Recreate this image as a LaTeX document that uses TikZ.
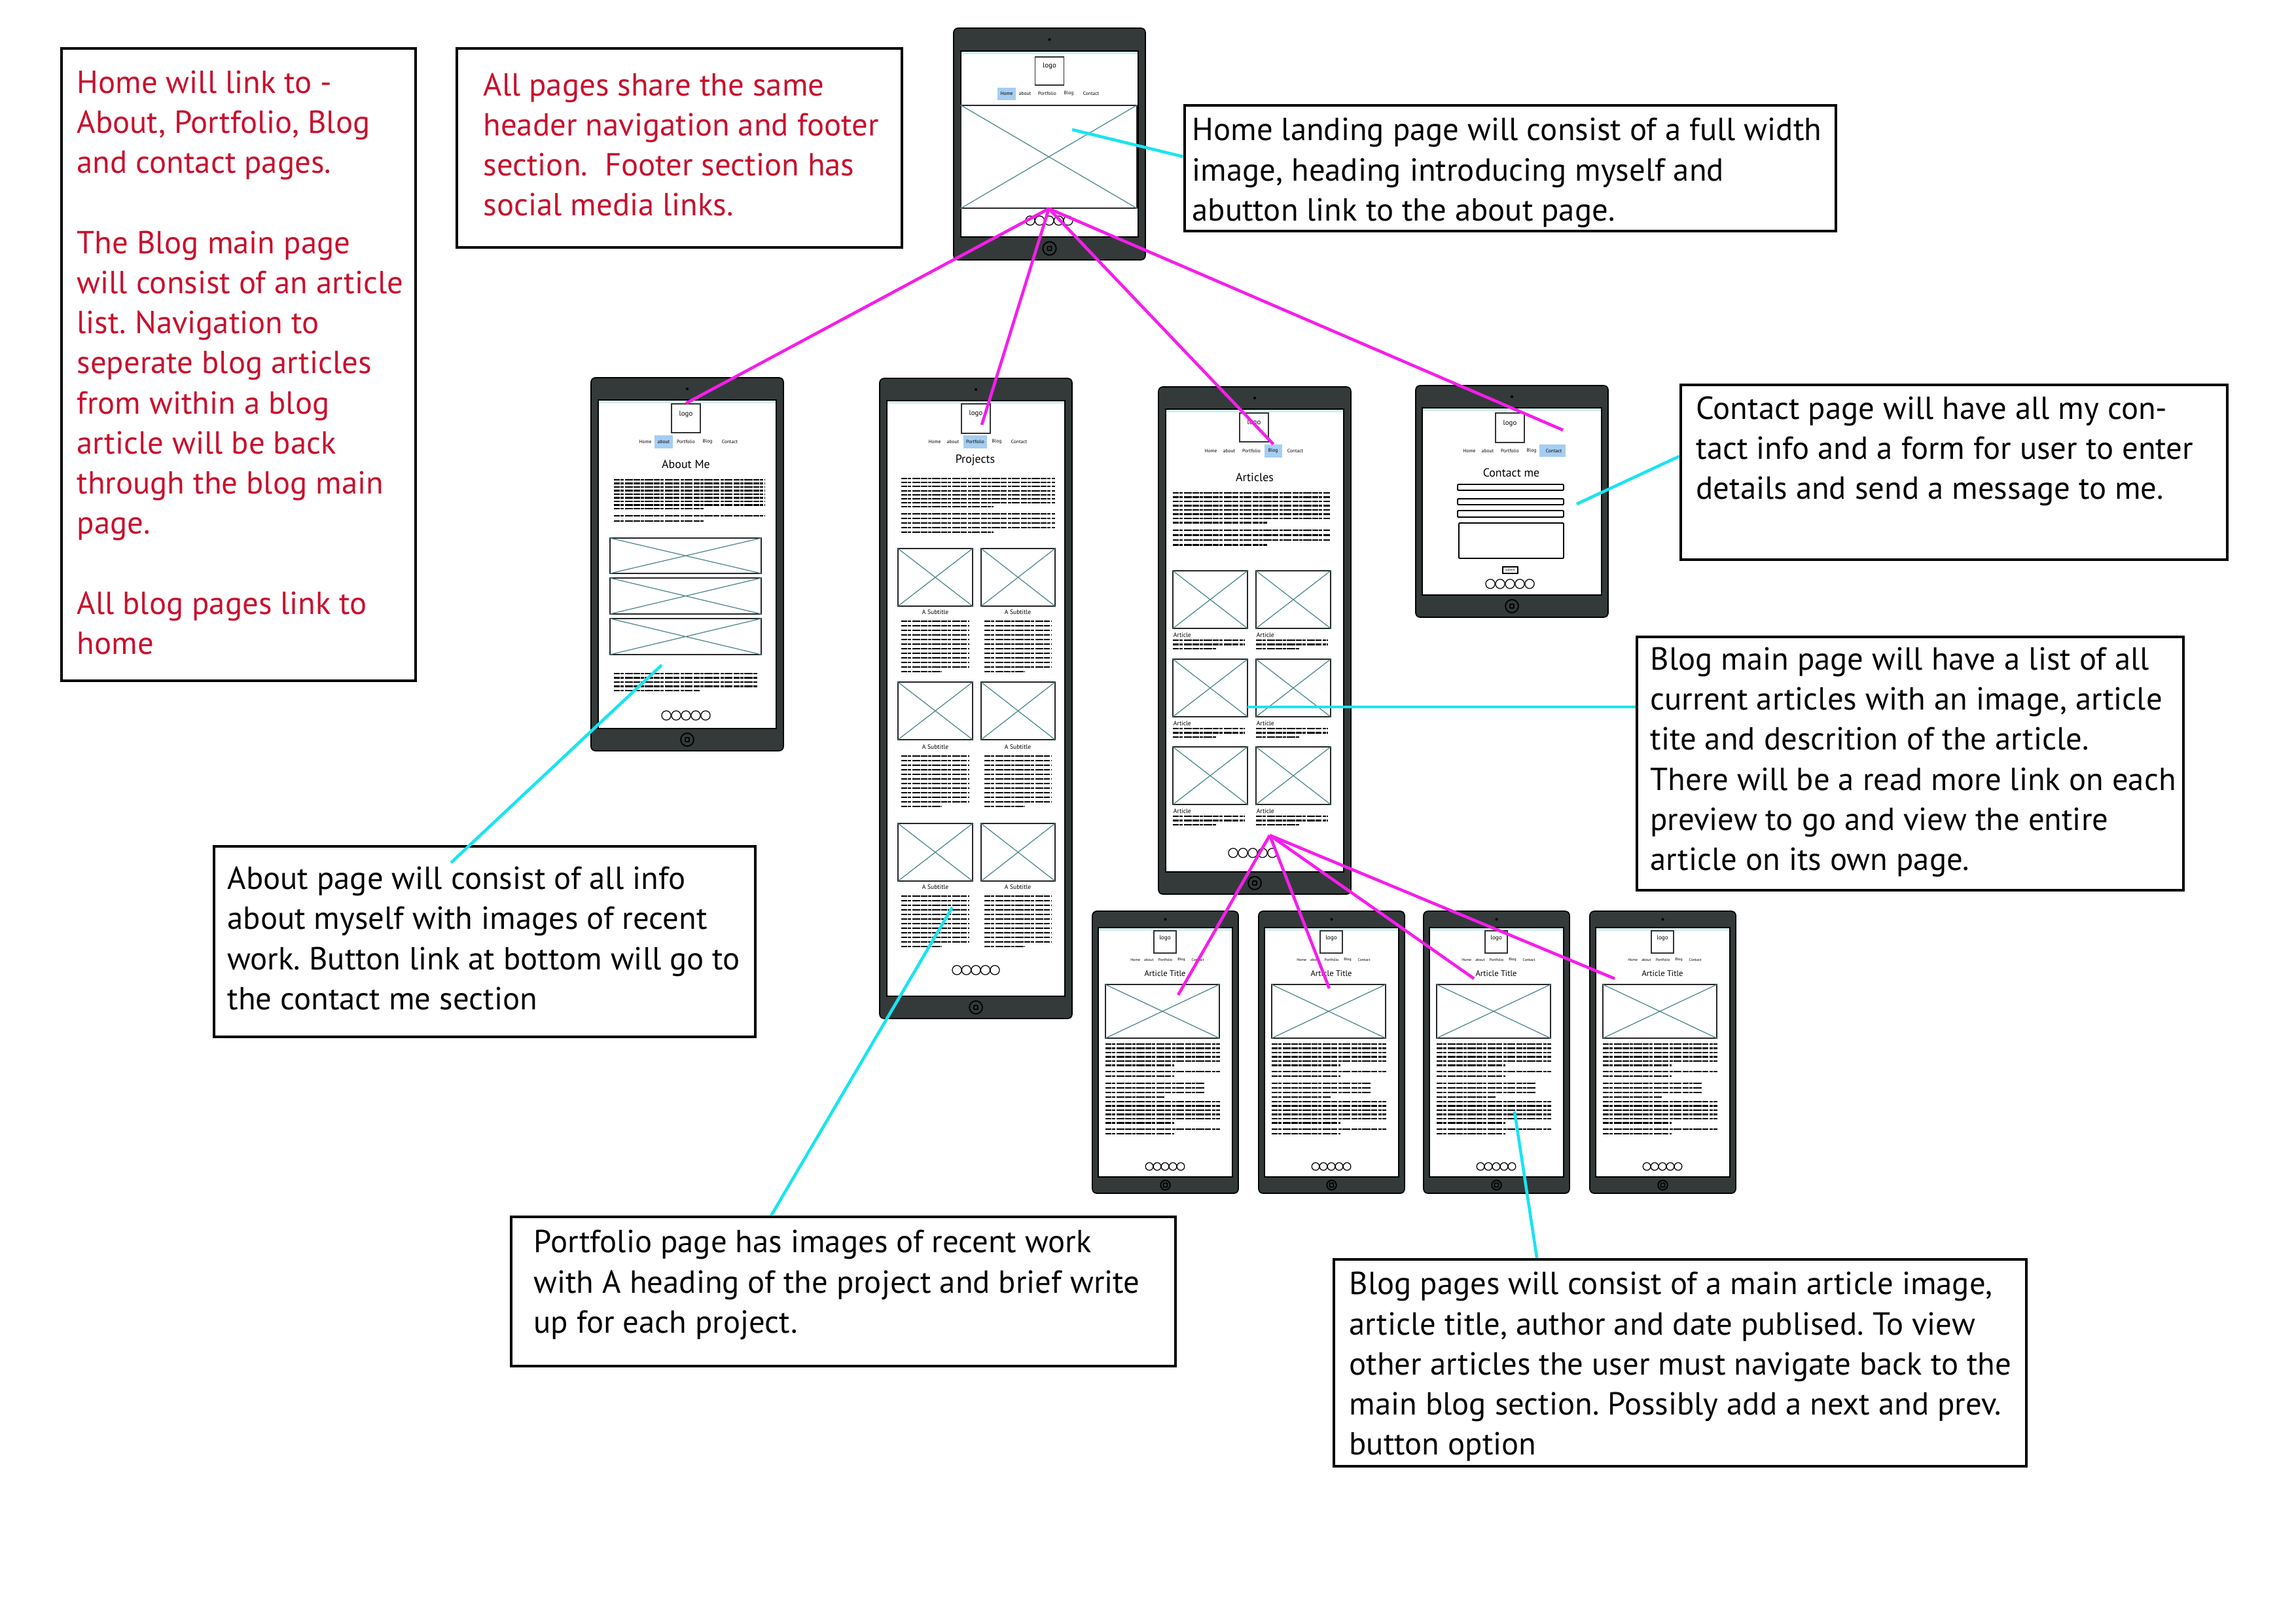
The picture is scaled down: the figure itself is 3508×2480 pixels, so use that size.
\documentclass[tikz,border=0pt]{standalone}
\usepackage{fontspec}
\setmainfont{PT Sans}
\usetikzlibrary{calc}
\frenchspacing

\definecolor{noteRed}{RGB}{200,16,46}
\definecolor{linkMagenta}{RGB}{245,30,235}
\definecolor{linkCyan}{RGB}{25,228,240}
\definecolor{tabletGray}{RGB}{52,58,58}
\definecolor{crossTeal}{RGB}{78,135,140}
\definecolor{navBlue}{RGB}{166,205,242}
\definecolor{statusCyan}{RGB}{214,236,236}

\newcommand{\notefont}{\fontsize{11.7}{14.7}\selectfont}

% tablet body: x1, y1, x2, y2, side gap, top gap
\newcommand{\tablet}[6]{%
  \pgfmathsetmacro{\tcx}{(#1+#3)/2}
  \pgfmathsetlengthmacro{\tbr}{#6*0.07pt}
  \draw[tabframe] (#1,#2) rectangle (#3,#4);
  \draw[screenarea] (#1+#5,#2+#6) rectangle (#3-#5,#4-#6);
  \fill[statusCyan] (#1+#5+1,#2+#6+1) rectangle (#3-#5-1,#2+#6+5);
  \fill (\tcx,#2+#6/2) circle (0.5pt);
  \draw[homebtn] (\tcx,#4-#6/2) circle (\tbr);
  \draw[homebtn,rounded corners=0.2pt] (\tcx-3,#4-#6/2-3) rectangle (\tcx+3,#4-#6/2+3);
}
% nav row: prefix, centre x, y, spread
\newcommand{\navrow}[4]{%
  \foreach \dx/\lbl in {-64/Home,-36/about,-2/Portfolio,31/Blog,65/Contact}
    \node[navitem] (#1-\lbl) at (#2+#4*\dx,#3) {\lbl};
}
% image placeholder: x1, y1, x2, y2
\newcommand{\placeholder}[4]{%
  \draw[imgbox] (#1,#2) rectangle (#3,#4);
  \draw[imgcross] (#1,#2) -- (#3,#4) (#1,#4) -- (#3,#2);
}
% dummy text: x1, x2, first y, lines, gap
\newcommand{\greek}[5]{%
  \foreach \i in {1,...,#4}{
    \pgfmathsetmacro{\gx}{\i==#4 ? (#1)+0.6*((#2)-(#1)) : #2}
    \draw[greekline] (#1,#3+\i*#5-#5) -- (\gx,#3+\i*#5-#5);
  }
}
% footer icons: centre x, y, gap, radius
\newcommand{\footdots}[4]{%
  \foreach \k in {-2,...,2} \draw[dotring] (#1+\k*#3,#2) circle (#4);
}

\begin{document}
\begin{tikzpicture}[x=0.24pt, y=-0.24pt,
    notebox/.style={draw=black, line width=1.1pt, inner sep=0pt},
    notetext/.style={align=left, font=\notefont, inner sep=0pt, anchor=west},
    tabframe/.style={fill=tabletGray, draw=black, line width=0.4pt, rounded corners=1.6pt},
    screenarea/.style={fill=white, draw=black, line width=0.6pt},
    homebtn/.style={draw=black, line width=0.45pt},
    logobox/.style={draw=black!80, line width=0.35pt, inner sep=0pt, minimum width=10.6pt, minimum height=10.6pt},
    logotext/.style={font=\fontsize{2.6}{3}\selectfont, inner sep=0pt},
    navitem/.style={font=\fontsize{1.8}{2}\selectfont, inner sep=0pt},
    navhl/.style={fill=navBlue, inner sep=0pt, minimum height=4.6pt},
    pagetitle/.style={font=\fontsize{4.3}{5}\selectfont, inner sep=0pt},
    subhead/.style={font=\fontsize{2.3}{2.6}\selectfont, inner sep=0pt},
    imgbox/.style={draw=black!85, line width=0.35pt},
    imgcross/.style={draw=crossTeal, line width=0.3pt},
    greekline/.style={line width=0.5pt, dash pattern=on 2.2pt off 0.3pt on 1.2pt off 0.3pt on 3pt off 0.3pt},
    dotring/.style={draw=black, line width=0.3pt},
    formfield/.style={draw=black, line width=0.45pt, rounded corners=0.3pt},
    magentalink/.style={draw=linkMagenta, line width=1.1pt},
    cyanlink/.style={draw=linkCyan, line width=1.1pt}]

  \useasboundingbox (0,0) rectangle (3508,2480);
  \fill[white] (0,0) rectangle (3508,2480);

  % Notes
  \node[notebox, minimum width=129.8pt, minimum height=231.8pt] (linknote) at (364.5,557) {};
  \node[notetext, text=noteRed] (linknote-t) at ($(linknote.west)+(25,-3)$)
    {Home will link to -\\About, Portfolio, Blog\\and contact pages.\\[14.7pt]The Blog main page\\will consist of an article\\list. Navigation to\\seperate blog articles\\from within a blog\\article will be back\\through the blog main\\page.\\[14.7pt]All blog pages link to\\home};

  \node[notebox, minimum width=163.2pt, minimum height=73pt] (sharednote) at (1038,226) {};
  \node[notetext, text=noteRed] (sharednote-t) at ($(sharednote.west)+(42,-5)$)
    {All pages share the same\\header navigation and footer\\section.\ \ Footer section has\\social media links.};

  \node[notebox, minimum width=238.8pt, minimum height=46.1pt] (homenote) at (2307.5,257) {};
  \node[notetext] (homenote-t) at ($(homenote.west)+(13,7)$)
    {Home landing page will consist of a full width\\image, heading introducing myself and\\abutton link to the about page.};

  \node[notebox, minimum width=200.4pt, minimum height=64.1pt] (contactnote) at (2985.5,721.5) {};
  \node[notetext] (contactnote-t) at ($(contactnote.west)+(25,-32)$)
    {Contact page will have all my con-\\tact info and a form for user to enter\\details and send a message to me.};

  \node[notebox, minimum width=200.4pt, minimum height=92.9pt] (blognote) at (2918.5,1166.5) {};
  \node[notetext] (blognote-t) at ($(blognote.west)+(22,-2)$)
    {Blog main page will have a list of all\\current articles with an image, article\\tite and descrition of the article.\\There will be a read more link on each\\preview to go and view the entire\\article on its own page.};

  \node[notebox, minimum width=198.5pt, minimum height=69.8pt] (aboutnote) at (740.5,1438.5) {};
  \node[notetext] (aboutnote-t) at ($(aboutnote.west)+(22,-5)$)
    {About page will consist of all info\\about myself with images of recent\\work. Button link at bottom will go to\\the contact me section};

  \node[notebox, minimum width=243.6pt, minimum height=54.7pt] (portnote) at (1288.5,1973) {};
  \node[notetext] (portnote-t) at ($(portnote.west)+(36,-10)$)
    {Portfolio page has images of recent work\\with A heading of the project and brief write\\up for each project.};

  \node[notebox, minimum width=253.9pt, minimum height=75.8pt] (pagesnote) at (2567,2082) {};
  \node[notetext] (pagesnote-t) at ($(pagesnote.west)+(25,6)$)
    {Blog pages will consist of a main article image,\\article title, author and date publised. To view\\other articles the user must navigate back to the\\main blog section. Possibly add a next and prev.\\button option};

  % Home page
  \tablet{1457}{43}{1750}{397}{11}{35}
  \node[logobox, minimum height=10.3pt] (homelogo) at (1603.5,108.5) {};
  \node[logotext] (homelogo-t) at (1603.5,101) {logo};
  \node[navhl, minimum width=6.7pt] (homenav) at (1538,143.5) {};
  \navrow{homenavrow}{1602}{143}{1}
  \node[imgbox, inner sep=0pt, minimum width=64.6pt, minimum height=37.7pt] (homehero) at (1602.5,239.5) {};
  \draw[imgcross] (homehero.north west) -- (homehero.south east) (homehero.south west) -- (homehero.north east);
  \footdots{1603}{337}{14.5}{1.7pt}

  % About page
  \tablet{903}{577}{1197}{1147}{11}{34}
  \node[logobox] (aboutlogo) at (1048,639) {};
  \node[logotext] (aboutlogo-t) at (1048,633) {logo};
  \node[navhl, minimum width=6.7pt] (aboutnav) at (1014,675) {};
  \navrow{aboutnavrow}{1050}{675}{1}
  \node[pagetitle] (abouttitle) at (1048,709) {About Me};
  \greek{938}{1168}{733}{9}{5.5}
  \greek{938}{1168}{788}{2}{8}
  \placeholder{932}{822}{1163}{876}
  \placeholder{932}{883}{1163}{938}
  \placeholder{932}{945}{1163}{1000}
  \greek{938}{1157}{1029}{5}{6.5}
  \footdots{1048}{1093}{15}{1.7pt}

  % Portfolio page
  \tablet{1344}{578}{1638}{1556}{11}{34}
  \node[logobox, minimum height=10.8pt] (portlogo) at (1491,639.5) {};
  \node[logotext] (portlogo-t) at (1491,632) {logo};
  \node[navhl, minimum width=8.6pt] (portnav) at (1490,675) {};
  \navrow{portnavrow}{1492}{675}{1}
  \node[pagetitle] (porttitle) at (1490,703) {Projects};
  \greek{1377}{1612}{731}{8}{6.2}
  \greek{1377}{1612}{785}{5}{7}
  \foreach \ry/\sy [count=\r] in {838/935,1042/1141,1258/1355}{
    \placeholder{1372}{\ry}{1486}{\ry+88}
    \placeholder{1499}{\ry}{1612}{\ry+88}
    \node[subhead] (portsub\r-a) at (1429,\sy) {A Subtitle};
    \node[subhead] (portsub\r-b) at (1555,\sy) {A Subtitle};
    \greek{1377}{1481}{\sy+14}{12}{7}
    \greek{1504}{1607}{\sy+14}{12}{7}
  }
  \footdots{1491}{1482}{14.5}{1.7pt}

  % Blog main page
  \tablet{1770}{591}{2064}{1366}{11}{34}
  \node[logobox] (bloglogo) at (1916,653) {};
  \node[logotext] (bloglogo-t) at (1916,646) {logo};
  \node[navhl, minimum width=6.5pt] (blognav) at (1945.5,689) {};
  \navrow{blognavrow}{1914}{689}{1}
  \node[pagetitle] (blogtitle) at (1917,729) {Articles};
  \greek{1792}{2032}{753}{8}{6.5}
  \greek{1792}{2032}{810}{4}{7.5}
  \foreach \ry [count=\r] in {872,1007,1141}{
    \placeholder{1792}{\ry}{1906}{\ry+88}
    \placeholder{1919}{\ry}{2033}{\ry+88}
    \node[subhead, anchor=west] (blogart\r-a) at (1792,\ry+98) {Article};
    \node[subhead, anchor=west] (blogart\r-b) at (1919,\ry+98) {Article};
    \greek{1792}{1902}{\ry+106}{3}{6.5}
    \greek{1919}{2029}{\ry+106}{3}{6.5}
  }
  \footdots{1914}{1303}{15}{1.7pt}
  \coordinate (bloghub) at (1940,1276);

  % Contact page
  \tablet{2163}{589}{2457}{943}{10}{34}
  \node[logobox, minimum height=10.8pt] (contactlogo) at (2307,653.5) {};
  \node[logotext] (contactlogo-t) at (2307,647) {logo};
  \node[navhl, minimum width=9.6pt] (contactnav) at (2372,688.5) {};
  \navrow{contactnavrow}{2309}{689}{1}
  \node[pagetitle] (contacttitle) at (2309,722) {Contact me};
  \draw[formfield] (2227,740) rectangle (2389,749);
  \draw[formfield] (2227,762) rectangle (2389,771);
  \draw[formfield] (2227,780) rectangle (2389,790);
  \draw[formfield] (2229,799) rectangle (2389,853);
  \node[draw, line width=0.45pt, inner sep=0pt, minimum width=5.5pt, minimum height=2.4pt,
    font=\fontsize{1.2}{1.4}\selectfont] (submitbtn) at (2307.5,871) {submit};
  \footdots{2307}{892}{15}{1.7pt}

  % Article pages
  \foreach \ax [count=\n] in {1669,1923,2175,2429}{
    \tablet{\ax}{1392}{\ax+223}{1823}{9}{25}
    \node[logobox, minimum width=8.2pt, minimum height=8.2pt] (art\n-logo) at (\ax+111,1439) {};
    \node[logotext, font=\fontsize{2.2}{2.6}\selectfont] (art\n-logo-t) at (\ax+111,1433) {logo};
    \begin{scope}[navitem/.append style={font=\fontsize{1.4}{1.6}\selectfont}]
      \navrow{art\n-nav}{\ax+113}{1466}{0.74}
    \end{scope}
    \node[pagetitle, font=\fontsize{3}{3.5}\selectfont] (art\n-title) at (\ax+111,1487) {Article Title};
    \placeholder{\ax+20}{1504}{\ax+194}{1586}
    \greek{\ax+20}{\ax+195}{1595}{6}{6.5}
    \greek{\ax+20}{\ax+195}{1637}{2}{7}
    \greek{\ax+20}{\ax+172}{1655}{4}{7}
    \greek{\ax+20}{\ax+195}{1683}{6}{6.5}
    \greek{\ax+20}{\ax+195}{1725}{2}{7}
    \footdots{\ax+111}{1782}{12}{1.4pt}
  }

  % Links from home
  \coordinate (portend) at (1500,649);
  \coordinate (contactend) at (2388,657);
  \draw[magentalink] (homehero.south) -- (aboutlogo.north);
  \draw[magentalink] (homehero.south) -- (portend);
  \draw[magentalink] (homehero.south) -- (blognav.north);
  \draw[magentalink] (homehero.south) -- (contactend);

  % Links from blog main
  \coordinate (art1end) at (1800,1520);
  \coordinate (art2end) at (2031,1510);
  \coordinate (art3end) at (2252,1495);
  \coordinate (art4end) at (2467,1495);
  \foreach \n in {1,...,4} \draw[magentalink] (bloghub) -- (art\n end);

  % Callouts
  \coordinate (homept) at (1638,198);
  \coordinate (contactpt) at (2409,770);
  \coordinate (blogpt) at (1906,1080);
  \coordinate (aboutpt) at (1011,1016);
  \coordinate (aboutend) at (689,1318);
  \coordinate (portpt) at (1455,1386);
  \coordinate (pagespt) at (2314,1698);
  \draw[cyanlink] (homept) -- ($(homenote.north west)!0.41!(homenote.south west)$);
  \draw[cyanlink] (contactpt) -- ($(contactnote.north west)!0.41!(contactnote.south west)$);
  \draw[cyanlink] (blogpt) -- (blogpt -| blognote.west);
  \draw[cyanlink] (aboutpt) -- (aboutend);
  \draw[cyanlink] (portpt) -- ($(portnote.north west)!0.392!(portnote.north east)$);
  \draw[cyanlink] (pagespt) -- ($(pagesnote.north west)!0.294!(pagesnote.north east)$);
\end{tikzpicture}
\end{document}
